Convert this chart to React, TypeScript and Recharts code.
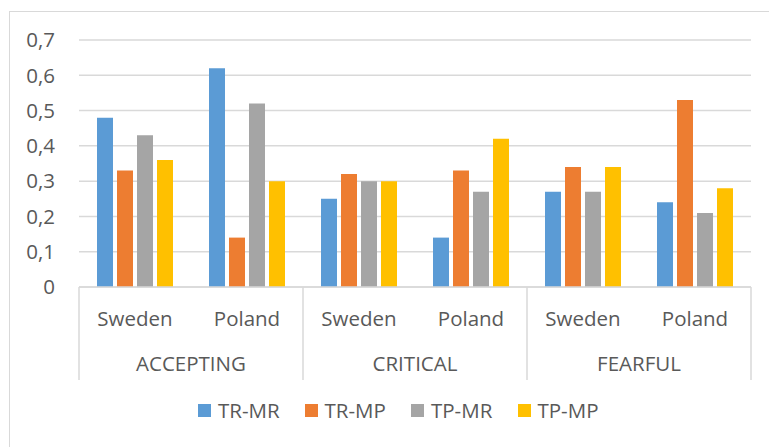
import { BarChart, Bar, XAxis, YAxis, CartesianGrid, Legend } from 'recharts';

const countries = ['Sweden', 'Poland', 'Sweden', 'Poland', 'Sweden', 'Poland'];
const groups = ['ACCEPTING', 'ACCEPTING', 'CRITICAL', 'CRITICAL', 'FEARFUL', 'FEARFUL'];
const trMr = [0.48, 0.62, 0.25, 0.14, 0.27, 0.24];
const trMp = [0.33, 0.14, 0.32, 0.33, 0.34, 0.53];
const tpMr = [0.43, 0.52, 0.3, 0.27, 0.27, 0.21];
const tpMp = [0.36, 0.3, 0.3, 0.42, 0.34, 0.28];
const yTicks = [0, 0.1, 0.2, 0.3, 0.4, 0.5, 0.6, 0.7];

const seriesList = [
  { key: 'TR-MR', color: '#5b9bd5' },
  { key: 'TR-MP', color: '#ed7d31' },
  { key: 'TP-MR', color: '#a5a5a5' },
  { key: 'TP-MP', color: '#ffc000' },
];

const data = countries.map((c, i) => ({
  country: c,
  group: groups[i],
  'TR-MR': trMr[i],
  'TR-MP': trMp[i],
  'TP-MR': tpMr[i],
  'TP-MP': tpMp[i],
}));

const FONT = '"Open Sans", sans-serif';
const FS = 20.5;
const TEXT = '#595959';
const LINE = '#d9d9d9';
const BAND = 112;

const CategoryTick = (props: any) => {
  const { x, y, payload, index } = props;
  const left = x - BAND / 2;
  return (
    <g>
      <text x={x} y={y + 31} textAnchor="middle" dominantBaseline="central"
        fill={TEXT} fontSize={FS} fontFamily={FONT}>
        {payload.value}
      </text>
      {index % 2 === 0 && (
        <>
          <line x1={left} y1={y} x2={left} y2={y + 93} stroke={LINE} strokeWidth={1.5} />
          <text x={x + BAND / 2} y={y + 76} textAnchor="middle" dominantBaseline="central"
            fill={TEXT} fontSize={FS} fontFamily={FONT}>
            {groups[index]}
          </text>
        </>
      )}
      {index === countries.length - 1 && (
        <line x1={x + BAND / 2} y1={y} x2={x + BAND / 2} y2={y + 93} stroke={LINE} strokeWidth={1.5} />
      )}
    </g>
  );
};

const renderLegend = () => (
  <div style={{ display: 'flex', fontFamily: FONT, fontSize: FS, color: TEXT, paddingLeft: 198 }}>
    {seriesList.map((s) => (
      <div key={s.key} style={{ display: 'flex', alignItems: 'center', width: 106.5 }}>
        <span style={{ display: 'inline-block', width: 13, height: 13, background: s.color, marginRight: 7 }} />
        <span>{s.key}</span>
      </div>
    ))}
  </div>
);

const App = () => {
  return (
    <div style={{ position: 'fixed', left: 0, top: 0, width: 769, height: 447, overflow: 'hidden', background: '#fff' }}>
      <div style={{ position: 'absolute', left: 9, top: 11, width: 800, height: 500, border: `1px solid ${LINE}` }} />
      <div style={{ position: 'absolute', left: 0, top: 0 }}>
        <BarChart width={769} height={447} data={data}
          margin={{ top: 40, right: 18, bottom: 0, left: 0 }}
          barSize={16} barGap={4}>
          <CartesianGrid vertical={false} stroke={LINE} strokeWidth={1.5} />
          <XAxis dataKey="country" height={160} axisLine={{ stroke: LINE, strokeWidth: 1.5 }}
            tickLine={false} tickSize={0} tickMargin={0} interval={0} tick={<CategoryTick />} />
          <YAxis width={79} domain={[0, 0.7]} ticks={yTicks} axisLine={false} tickLine={false}
            tickSize={0} tickMargin={24}
            tick={{ fill: TEXT, fontSize: FS, fontFamily: FONT }}
            tickFormatter={(v: number) => (v === 0 ? '0' : v.toFixed(1).replace('.', ','))} />
          <Legend verticalAlign="middle" align="center" layout="horizontal" content={renderLegend}
            wrapperStyle={{ position: 'absolute', top: 396, left: 0, width: 769, height: 30 }} />
          {seriesList.map((s) => (
            <Bar key={s.key} dataKey={s.key} fill={s.color} isAnimationActive={false} />
          ))}
        </BarChart>
      </div>
    </div>
  );
};

export default App;
